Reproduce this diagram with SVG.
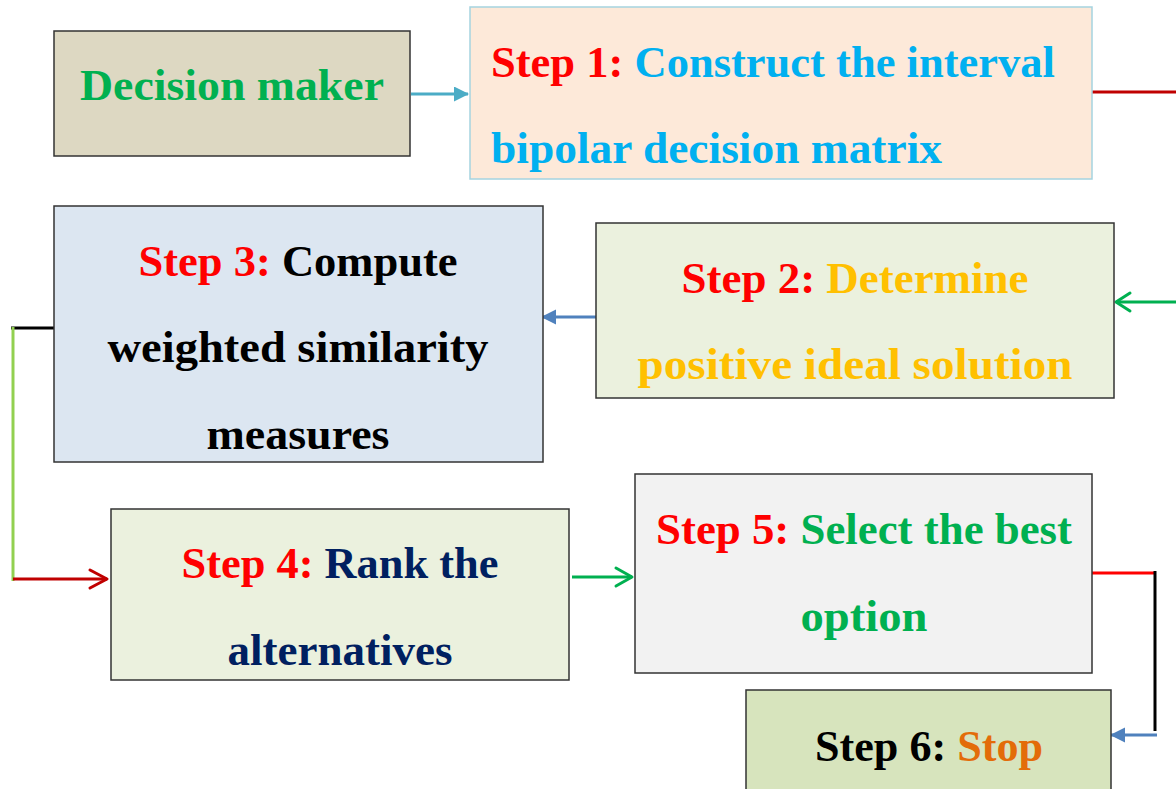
<svg xmlns="http://www.w3.org/2000/svg" width="1176" height="789" viewBox="0 0 1176 789">
  <style>
    .box { stroke: #333333; stroke-width: 1.5; }
    .t { font-family: "Liberation Serif", "Times New Roman", serif; font-weight: bold; font-size: 45px; }
    .mid { text-anchor: middle; }
    .red { fill: #ff0000; }
    .cyan { fill: #00b0f0; }
    .green { fill: #00b050; }
    .gold { fill: #ffc000; }
    .black { fill: #000000; }
    .navy { fill: #002060; }
    .orange { fill: #e36c09; }
    .ln { fill: none; stroke-width: 3; }
  </style>
  <defs>
    <marker id="triTeal" markerWidth="16" markerHeight="16" refX="14" refY="7.5" orient="auto" markerUnits="userSpaceOnUse">
      <path d="M0,0 L15,7.5 L0,15 Z" fill="#4bacc6"/>
    </marker>
    <marker id="triBlue" markerWidth="16" markerHeight="16" refX="14" refY="7.5" orient="auto" markerUnits="userSpaceOnUse">
      <path d="M0,0 L15,7.5 L0,15 Z" fill="#4f81bd"/>
    </marker>
  </defs>

  <rect width="1176" height="789" fill="#ffffff"/>

  <!-- connectors -->
  <g id="connectors">
    <!-- decision maker to step 1 -->
    <line class="ln" x1="411" y1="94" x2="468" y2="94" stroke="#4bacc6" marker-end="url(#triTeal)"/>
    <!-- step 1 leaving right -->
    <line class="ln" x1="1092" y1="92" x2="1176" y2="92" stroke="#c00000"/>
    <!-- into step 2 from right -->
    <line class="ln" x1="1176" y1="302" x2="1116" y2="302" stroke="#00b050"/>
    <polyline class="ln" points="1130,293 1116,302 1130,311" stroke="#00b050" stroke-linecap="round" stroke-linejoin="round"/>
    <!-- step 2 to step 3 -->
    <line class="ln" x1="596" y1="317" x2="542" y2="317" stroke="#4f81bd" marker-end="url(#triBlue)"/>
    <!-- step 3 to step 4 around the left side -->
    <line class="ln" x1="11" y1="328" x2="54" y2="328" stroke="#000000"/>
    <line class="ln" x1="13" y1="327" x2="13" y2="581" stroke="#92d050"/>
    <line class="ln" x1="13" y1="579" x2="107" y2="579" stroke="#c00000"/>
    <polyline class="ln" points="90,570 107,579 90,588" stroke="#c00000" stroke-linecap="round" stroke-linejoin="round"/>
    <!-- step 4 to step 5 -->
    <line class="ln" x1="572" y1="577" x2="632" y2="577" stroke="#00b050"/>
    <polyline class="ln" points="616,568 632,577 616,586" stroke="#00b050" stroke-linecap="round" stroke-linejoin="round"/>
    <!-- step 5 to step 6 -->
    <line class="ln" x1="1092" y1="573" x2="1155" y2="573" stroke="#ff0000"/>
    <line class="ln" x1="1155" y1="571" x2="1155" y2="731" stroke="#000000"/>
    <line class="ln" x1="1157" y1="735" x2="1111" y2="735" stroke="#4f81bd" marker-end="url(#triBlue)"/>
  </g>

  <g id="decision-maker">
    <rect class="box" x="54" y="31" width="356" height="125" fill="#ddd8c2"/>
    <text class="t mid green" x="232" y="100" textLength="304" lengthAdjust="spacingAndGlyphs">Decision maker</text>
  </g>

  <g id="step1">
    <rect x="470" y="7" width="622" height="172" fill="#fde9d9" stroke="#a5d3e0" stroke-width="1.5"/>
    <text class="t" x="491" y="77" textLength="564" lengthAdjust="spacingAndGlyphs"><tspan class="red">Step 1:</tspan><tspan class="cyan"> Construct the interval</tspan></text>
    <text class="t cyan" x="491" y="163" textLength="451" lengthAdjust="spacingAndGlyphs">bipolar decision matrix</text>
  </g>

  <g id="step2">
    <rect class="box" x="596" y="223" width="518" height="175" fill="#ebf1de"/>
    <text class="t mid" x="855" y="293" textLength="347" lengthAdjust="spacingAndGlyphs"><tspan class="red">Step 2:</tspan><tspan class="gold"> Determine</tspan></text>
    <text class="t mid gold" x="855" y="379" textLength="435" lengthAdjust="spacingAndGlyphs">positive ideal solution</text>
  </g>

  <g id="step3">
    <rect class="box" x="54" y="206" width="489" height="256" fill="#dce6f1"/>
    <text class="t mid" x="298" y="276" textLength="319" lengthAdjust="spacingAndGlyphs"><tspan class="red">Step 3:</tspan><tspan class="black"> Compute</tspan></text>
    <text class="t mid black" x="298" y="362" textLength="381" lengthAdjust="spacingAndGlyphs">weighted similarity</text>
    <text class="t mid black" x="298" y="449" textLength="183" lengthAdjust="spacingAndGlyphs">measures</text>
  </g>

  <g id="step4">
    <rect class="box" x="111" y="509" width="458" height="171" fill="#ebf1de"/>
    <text class="t mid" x="340" y="578" textLength="317" lengthAdjust="spacingAndGlyphs"><tspan class="red">Step 4:</tspan><tspan class="navy"> Rank the</tspan></text>
    <text class="t mid navy" x="340" y="665" textLength="225" lengthAdjust="spacingAndGlyphs">alternatives</text>
  </g>

  <g id="step5">
    <rect class="box" x="635" y="474" width="457" height="199" fill="#f2f2f2"/>
    <text class="t mid" x="864" y="544" textLength="416" lengthAdjust="spacingAndGlyphs"><tspan class="red">Step 5:</tspan><tspan class="green"> Select the best</tspan></text>
    <text class="t mid green" x="864" y="631" textLength="127" lengthAdjust="spacingAndGlyphs">option</text>
  </g>

  <g id="step6">
    <rect class="box" x="746" y="690" width="365" height="110" fill="#d7e4bd"/>
    <text class="t mid" x="929" y="761" textLength="228" lengthAdjust="spacingAndGlyphs"><tspan class="black">Step 6:</tspan><tspan class="orange"> Stop</tspan></text>
  </g>
</svg>
